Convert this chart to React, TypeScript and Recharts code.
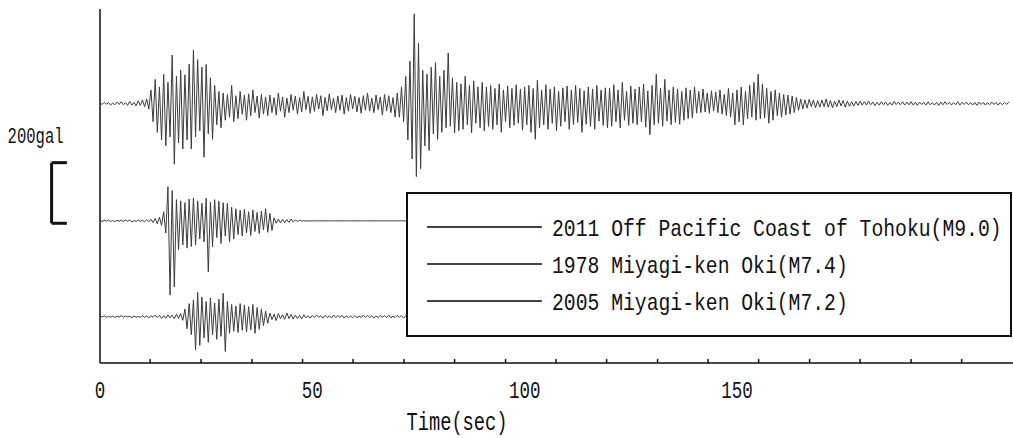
import React from 'react'
import { LineChart, Line, XAxis, YAxis, Legend, ReferenceLine } from 'recharts'

// sampling interval of the digitised records (sec)
const STEP = 0.5

const seriesNames = [
  '2011 Off Pacific Coast of Tohoku(M9.0)',
  '1978 Miyagi-ken Oki(M7.4)',
  '2005 Miyagi-ken Oki(M7.2)',
]

// vertical offsets (gal) used to stack the three records
const baselines = [856, 469, 153]

// acceleration (gal), one value every STEP seconds from t = 0
const tohoku2011 = [
  2, -3, 4, -2, 3, -5, 2, -4, 5, -3, 6, -4, 3, -6, 7, -5, 4, -8, 9, -6,
  12, -10, 15, -18, 45, -60, 80, -95, 55, -120, 97, -140, 70, -110, 160, -200, 90, -130, 110, -150,
  95, -120, 130, -150, 177, -110, 145, -90, 120, -177, 129, -100, 85, -118, 60, -70, 40, -80, 35, -55,
  30, -45, 60, -60, 26, -50, 40, -35, 28, -55, 32, -40, 45, -30, 25, -48, 30, -35, 22, -40,
  28, -30, 20, -38, 35, -25, 22, -45, 18, -30, 30, -22, 25, -35, 20, -28, 40, -20, 24, -32,
  22, -26, 30, -18, 26, -40, 20, -24, 32, -20, 18, -30, 25, -22, 28, -35, 20, -25, 30, -18,
  24, -28, 20, -32, 26, -22, 35, -25, 18, -30, 28, -20, 22, -38, 30, -24, 26, -30, 20, -45,
  35, -45, 55, -60, 90, -120, 140, -183, 296, -241, 200, -215, 110, -140, 97, -155, 120, -100, 135, -118,
  90, -95, 110, -80, 167, -75, 85, -97, 70, -90, 65, -85, 90, -70, 60, -97, 75, -65, 55, -80,
  70, -90, 55, -75, 60, -85, 50, -70, 65, -95, 45, -60, 58, -80, 50, -72, 62, -65, 48, -88,
  55, -70, 60, -95, 50, -118, 77, -80, 45, -70, 62, -85, 48, -65, 55, -90, 40, -75, 52, -60,
  58, -85, 45, -70, 60, -62, 50, -95, 42, -68, 55, -75, 48, -85, 60, -58, 45, -72, 52, -80,
  50, -75, 62, -60, 45, -80, 70, -55, 40, -72, 58, -65, 48, -70, 55, -60, 65, -78, 42, -103,
  60, -70, 97, -65, 50, -75, 80, -58, 45, -70, 55, -62, 48, -68, 40, -55, 52, -50, 45, -48,
  55, -32, 40, -30, 48, -28, 35, -32, 42, -25, 38, -30, 45, -35, 30, -40, 50, -45, 35, -70,
  45, -60, 55, -70, 40, -50, 60, -45, 70, -55, 97, -50, 65, -48, 50, -65, 40, -55, 45, -40,
  35, -45, 30, -38, 28, -35, 25, -30, 20, -22, 15, -18, 12, -15, 14, -10, 12, -14, 10, -12,
  12, -10, 15, -12, 10, -14, 8, -10, 12, -8, 10, -12, 8, -9, 6, -8, 7, -6, 8, -5,
  6, -5, 8, -4, 5, -7, 4, -5, 6, -4, 5, -6, 4, -5, 7, -3, 5, -4, 6, -5,
  5, -4, 6, -5, 4, -6, 5, -3, 4, -5, 6, -4, 3, -5, 4, -6, 5, -4, 6, -3,
  4, -5, 3, -4, 6, -5, 4, -3, 5, -4, 3, -5, 4, -6, 5, -3, 4, -5, 3, -4,
  5, -3, 4, -5, 3, -4, 4, -3, 5,
]

const miyagi1978 = [
  1, -2, 2, -1, 3, -2, 1, -3, 2, -1, 2, -2, 3, -1, 2, -3, 1, -2, 3, -2,
  2, -3, 4, -3, 5, -6, 8, -10, 12, -15, 30, -40, 113, -245, 100, -218, 70, -95, 66, -80,
  60, -90, 72, -85, 75, -80, 66, -60, 58, -70, 75, -168, 62, -85, 70, -55, 65, -75, 60, -50,
  58, -70, 45, -60, 40, -45, 35, -50, 38, -40, 30, -48, 36, -35, 28, -42, 32, -30, 40, -38,
  25, -32, 10, -8, 6, -7, 5, -6, 4, -5, 6, -4, 3, -2, 2, -1, 1, -1, 0, 0,
  0, 0, 0, 0, 0, 0, 0, 0, 0, 0, 0, 0, 0, 0, 0, 0, 0, 0, 0, 0,
  0, 0, 0, 0, 0, 0, 0, 0, 0, 0, 0, 0, 0, 0, 0, 0, 0, 0, 0, 0,
  0, 0, 0, 0, 0, 0, 0, 0, 0, 0, 0,
]

const miyagi2005 = [
  2, -1, 3, -2, 1, -2, 2, -3, 1, -1, 3, -2, 2, -1, 1, -3, 2, -2, 1, -2,
  3, -2, 2, -4, 3, -2, 5, -3, 4, -6, 3, -5, 6, -4, 5, -7, 8, -6, 10, -12,
  25, -40, 43, -60, 55, -110, 80, -95, 65, -70, 50, -85, 62, -60, 45, -75, 58, -65, 77, -115,
  50, -55, 40, -48, 35, -52, 43, -45, 38, -50, 33, -44, 40, -55, 30, -42, 25, -30, 18, -22,
  12, -10, 8, -13, 10, -7, 6, -9, 12, -6, 7, -8, 5, -6, 4, -7, 6, -4, 3, -5,
  4, -3, 5, -2, 3, -5, 4, -3, 2, -4, 5, -3, 3, -2, 4, -5, 3, -4, 2, -3,
  3, -4, 2, -3, 5, -2, 4, -3, 3, -5, 2, -4, 4, -2, 3, -3, 5, -4, 2, -3,
  4, -2, 3, -4, 2, -3, 3, -2, 4, -3, 2,
]

const records = [tohoku2011, miyagi1978, miyagi2005]

const labelTicks = [0, 50, 100, 150]
const minorTicks = [11.8, 23.8, 35.8, 47.7, 59.6, 71.6, 83.5, 95.5, 107.4, 119.3, 131.3, 143.2, 155.1, 167.1, 179, 191, 202.9]
const allTicks = [...labelTicks, ...minorTicks].sort((a, b) => a - b)

// 200 gal scale bar, drawn left of the axis
const scaleBarX = [-11.4, -7.8]
const scaleBarY = [461, 661]

const series = records.map((vals, k) => ({
  name: seriesNames[k],
  data: vals.map((v, i) => ({ t: i * STEP, y: baselines[k] + v })),
}))

const INK = '#111'
const WAVE = '#3c3c3c'
const FONT = "'Liberation Mono', monospace"
const ADVANCE = 0.6 // Liberation Mono glyph advance, in em

// monospace text squeezed horizontally to the narrow half-width look of the original
function NarrowText({ x, y, size, width, anchor = 'middle', children }: any) {
  const s = String(children)
  const sx = width / (s.length * ADVANCE * size)
  return (
    <text transform={`translate(${x},${y}) scale(${sx.toFixed(3)},1)`} fontFamily={FONT}
      fontSize={size} fill={INK} textAnchor={anchor}>
      {s}
    </text>
  )
}

function TimeTick({ x, y, payload }: any) {
  if (labelTicks.includes(payload.value)) {
    const s = String(payload.value)
    return <NarrowText x={x} y={y + 35} size={24} width={s.length * 10.5}>{s}</NarrowText>
  }
  return <line x1={x} x2={x} y1={y} y2={y - 4} stroke={INK} strokeWidth={1.5} />
}

function TimeLabel({ viewBox }: any) {
  return <NarrowText x={viewBox.x + 357} y={viewBox.y + 67} size={25} width={101}>Time(sec)</NarrowText>
}

function ScaleTop(p: any) {
  return (
    <g>
      <line x1={p.x1} y1={p.y1} x2={p.x2} y2={p.y2} stroke={INK} strokeWidth={3} />
      <NarrowText x={p.x1 - 16} y={p.y1 - 20} size={22} width={56}>200gal</NarrowText>
    </g>
  )
}

function SeriesKey({ payload }: any) {
  const items = [...(payload || [])].sort(
    (a: any, b: any) => seriesNames.indexOf(a.value) - seriesNames.indexOf(b.value),
  )
  return (
    <div style={{ width: 606, height: 145, border: `2px solid ${INK}`, background: '#fff', boxSizing: 'border-box' }}>
      <svg width={602} height={141} style={{ display: 'block' }}>
        {items.map((p: any, i: number) => {
          const y = 33 + i * 37
          return (
            <g key={p.value}>
              <line x1={19} x2={134} y1={y} y2={y} stroke="#444" strokeWidth={2} />
              <NarrowText x={144} y={y + 8.5} size={24} anchor="start" width={p.value.length * 11.84}>{p.value}</NarrowText>
            </g>
          )
        })}
      </svg>
    </div>
  )
}

export default function App() {
  return (
    <div style={{ position: 'absolute', left: 0, top: 0, background: '#fff' }}>
      <LineChart width={1013} height={438} margin={{ top: 9, right: 0, bottom: 0, left: 99 }}>
        <XAxis xAxisId="main" dataKey="t" type="number" domain={[0, 215]} ticks={allTicks} interval={0}
          allowDataOverflow tickLine={false} tickSize={0} tickMargin={0} tick={<TimeTick />}
          axisLine={{ stroke: INK, strokeWidth: 1.5 }} height={75} label={{ content: TimeLabel }} />
        <YAxis type="number" domain={[0, 1168]} allowDataOverflow tick={false} tickLine={false}
          axisLine={{ stroke: INK, strokeWidth: 1.5 }} width={1} />
        <ReferenceLine xAxisId="main" ifOverflow="visible" stroke={INK} strokeWidth={3}
          segment={[{ x: scaleBarX[0], y: scaleBarY[0] }, { x: scaleBarX[0], y: scaleBarY[1] }]} />
        <ReferenceLine xAxisId="main" ifOverflow="visible" stroke={INK} strokeWidth={3}
          segment={[{ x: scaleBarX[0], y: scaleBarY[0] }, { x: scaleBarX[1], y: scaleBarY[0] }]} />
        <ReferenceLine xAxisId="main" ifOverflow="visible" shape={<ScaleTop />}
          segment={[{ x: scaleBarX[0], y: scaleBarY[1] }, { x: scaleBarX[1], y: scaleBarY[1] }]} />
        {series.map((s) => (
          <Line key={s.name} xAxisId="main" data={s.data} dataKey="y" name={s.name} type="linear"
            stroke={WAVE} strokeWidth={1} dot={false} activeDot={false} isAnimationActive={false} />
        ))}
        <Legend layout="vertical" align="center" verticalAlign="middle" content={<SeriesKey />}
          wrapperStyle={{ left: 406, top: 192, width: 606, height: 145 }} />
      </LineChart>
    </div>
  )
}
